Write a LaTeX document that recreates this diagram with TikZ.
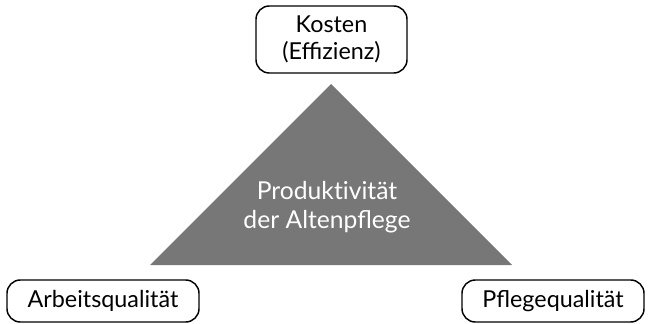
\documentclass[tikz,border=0pt]{standalone}
\usepackage{fontspec}
\setmainfont{Lato}
\definecolor{trigray}{HTML}{777777}
\begin{document}
\begin{tikzpicture}[x=0.75pt,y=-0.75pt,
  lbl/.style={draw=black,line width=1.1pt,rounded corners=10pt,inner sep=0pt,font=\fontsize{17.5}{20}\selectfont,align=center}]
\useasboundingbox (0,0) rectangle (649,324);
\fill[trigray] (331,84) -- (512,265) -- (150,265) -- cycle;
\node[text=white,align=center,font=\fontsize{18.5}{22}\selectfont] (center) at (327,207) {Produkt\kern0pt ivität\\der Altenpflege};
\node[lbl,minimum width=151*0.75pt,minimum height=67*0.75pt] (kosten) at (331.5,39.5) {Kosten\\(Effizienz)};
\node[lbl,minimum width=192*0.75pt,minimum height=42*0.75pt] (arbeit) at (103,301) {Arbeitsqualität};
\node[lbl,minimum width=182*0.75pt,minimum height=42*0.75pt] (pflege) at (553,301) {Pflegequalität};
\end{tikzpicture}
\end{document}
